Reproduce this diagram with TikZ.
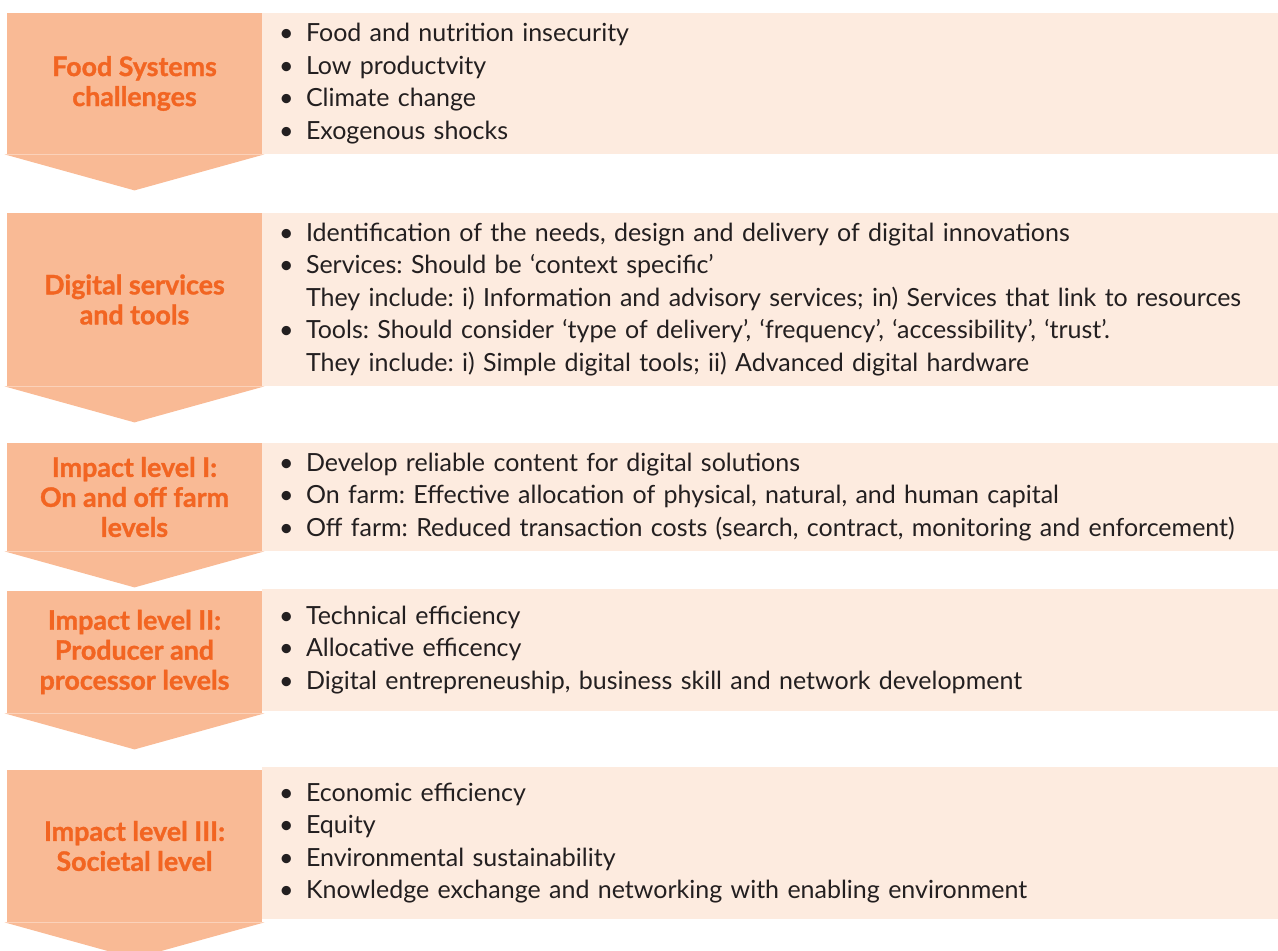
\documentclass[tikz,border=0pt]{standalone}
\usepackage{fontspec}
\setmainfont{Lato}
\newfontfamily\headfont{Lato}[BoldFeatures={FakeBold=1.2}]
\usepackage{xcolor}
\usepackage{tikz}
\usetikzlibrary{calc}
\definecolor{cHead}{HTML}{F9BA95}
\definecolor{cBody}{HTML}{FDEBDF}
\definecolor{cTitle}{HTML}{F26522}
\definecolor{cText}{HTML}{231F20}
\tikzset{
  head/.style  = {rectangle, fill=cHead, minimum width=127.5pt, inner sep=2pt,
                  align=center, text=cTitle,
                  font=\headfont\fontsize{13.4}{15}\selectfont\bfseries},
  body/.style  = {rectangle, fill=cBody, minimum width=508pt, inner xsep=8.5pt,
                  inner ysep=0pt, text width=491pt, align=left, text=cText,
                  font=\fontsize{12.5}{16.25}\selectfont},
  down/.style  = {fill=cHead},
}
\frenchspacing
\newcommand{\itm}[1]{\makebox[13.5pt][l]{\textbullet}#1}
\newcommand{\cnt}[1]{\hspace*{13.5pt}#1}

\begin{document}
\begin{tikzpicture}[x=0.5pt, y=-0.5pt]
  \useasboundingbox (0,0) rectangle (1278,951);

  \node[body, minimum height=70.5pt] (b1) at (770,83.5) {%
    \itm{Food and nutrition insecurity}\\
    \itm{Low productvity}\\
    \itm{Climate change}\\
    \itm{Exogenous shocks}};
  \node[body, minimum height=86.5pt] (b2) at (770,299.5) {%
    \itm{Identification of the needs, design and delivery of digital innovations}\\
    \itm{Services: Should be ‘context specific’}\\
    \cnt{They include: i) Information and advisory services; in) Services that link to resources}\\
    \itm{Tools: Should consider ‘type of delivery’, ‘frequency’, ‘accessibility’, ‘trust’.}\\
    \cnt{They include: i) Simple digital tools; ii) Advanced digital hardware}};
  \node[body, minimum height=54pt] (b3) at (770,497) {%
    \itm{Develop reliable content for digital solutions}\\
    \itm{On farm: Effective allocation of physical, natural, and human capital}\\
    \itm{Off farm: Reduced transaction costs (search, contract, monitoring and enforcement)}};
  \node[body, minimum height=61pt] (b4) at (770,650) {%
    \itm{Technical efficiency}\\
    \itm{Allocative efficency}\\
    \itm{Digital entrepreneuship, business skill and network development}};
  \node[body, minimum height=76pt] (b5) at (770,843) {%
    \itm{Economic efficiency}\\
    \itm{Equity}\\
    \itm{Environmental sustainability}\\
    \itm{Knowledge exchange and networking with enabling environment}};

  \node[head, minimum height=70.5pt] (h1) at (134.5,83.5) {Food Systems\\challenges};
  \node[head, minimum height=86.5pt] (h2) at (134.5,299.5) {Digital services\\and tools};
  \node[head, minimum height=54pt] (h3) at (134.5,497) {Impact level I:\\On and off farm\\levels};
  \node[head, minimum height=61pt] (h4) at (134.5,652) {Impact level II:\\Producer and\\processor levels};
  \node[head, minimum height=76pt] (h5) at (134.5,846) {Impact level III:\\Societal level};

  % chevrons under each heading
  \foreach \h in {h1,h2,h3,h4,h5}
    \fill[down] ([xshift=-1pt]\h.south west) -- ([xshift=1pt]\h.south east)
      -- ($(\h.south)+(0,36)$) -- cycle;
\end{tikzpicture}
\end{document}
